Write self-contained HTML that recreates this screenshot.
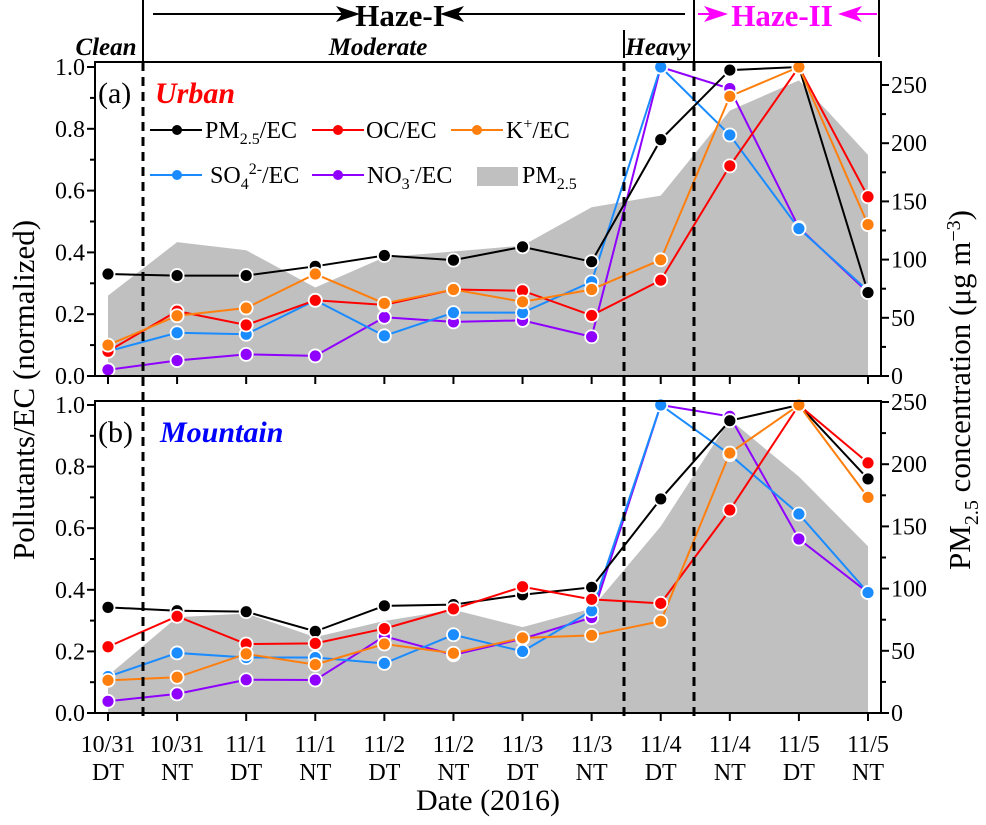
<!DOCTYPE html>
<html><head><meta charset="utf-8">
<style>
html,body{margin:0;padding:0;background:#fff;}
svg, svg text, svg tspan{font-family:"Liberation Serif","DejaVu Serif","Times New Roman",serif !important;}
</style></head>
<body>
<svg id="chart" width="986" height="820" viewBox="0 0 986 820">
</svg>
<script>
const categories = ["10/31|DT","10/31|NT","11/1|DT","11/1|NT","11/2|DT","11/2|NT","11/3|DT","11/3|NT","11/4|DT","11/4|NT","11/5|DT","11/5|NT"];
const seriesNames = ["PM2.5/EC","OC/EC","K+/EC","SO4/EC","NO3/EC"];
const urbanPM = [0.33,0.325,0.325,0.355,0.39,0.375,0.418,0.37,0.765,0.99,1.0,0.27];
const urbanOC = [0.08,0.21,0.165,0.245,0.23,0.28,0.276,0.196,0.31,0.68,1.0,0.58];
const urbanK = [0.10,0.195,0.22,0.33,0.235,0.28,0.24,0.28,0.376,0.905,1.0,0.49];
const urbanSO4 = [0.08,0.14,0.135,0.245,0.13,0.205,0.205,0.305,1.0,0.78,0.477,0.276];
const urbanNO3 = [0.02,0.05,0.07,0.065,0.19,0.175,0.18,0.127,1.0,0.93,0.48,0.27];
const urbanPM25 = [69,115,108,76,102,107,112,145,155,228,254,190];
const mountPM = [0.343,0.332,0.329,0.265,0.348,0.352,0.384,0.408,0.695,0.949,1.0,0.76];
const mountOC = [0.215,0.314,0.224,0.226,0.274,0.338,0.41,0.369,0.356,0.659,1.0,0.812];
const mountK = [0.106,0.116,0.192,0.157,0.224,0.194,0.244,0.252,0.298,0.844,1.0,0.70];
const mountSO4 = [0.118,0.195,0.18,0.18,0.161,0.254,0.2,0.332,1.0,0.839,0.646,0.391];
const mountNO3 = [0.038,0.062,0.108,0.107,0.249,0.189,0.241,0.31,1.0,0.963,0.565,0.391];
const mountPM25 = [30,77,80,61,74,83,69,84,150,236,190,134];
const leftTicks = ["0.0","0.2","0.4","0.6","0.8","1.0"];
const rightTicks = [0,50,100,150,200,250];

const colors = ["#000000","#ff0000","#ff7f0e","#1a8cff","#8f00ff"];
const drawOrder = [4,3,0,1,2];
const NS="http://www.w3.org/2000/svg";
const svg=document.getElementById('chart');
function el(tag,attrs,parent,text){const e=document.createElementNS(NS,tag);for(const k in attrs)e.setAttribute(k,attrs[k]);if(text!==undefined)e.textContent=text;(parent||svg).appendChild(e);return e;}

const X0=95,X1=881;
function xScale(i){return 108+i*(868-108)/(categories.length-1);}

function panel(cfg){
  const g=el('g',{});
  
  
  const yL=v=>cfg.y0-(cfg.y0-cfg.y1)*v;
  const yR=v=>cfg.y0-(cfg.y0-cfg.r250)*v/250;
  let d='M'+xScale(0)+','+cfg.y0;
  cfg.pm.forEach((v,i)=>{d+=' L'+xScale(i)+','+yR(v);});
  d+=' L'+xScale(cfg.pm.length-1)+','+cfg.y0+' Z';
  const a=el('path',{d:d,fill:'#c0c0c0'},g);
  
  
  drawOrder.forEach(si=>{
    const arr=cfg.series[si];
    const p=el('polyline',{points:arr.map((v,i)=>xScale(i)+','+yL(v)).join(' '),fill:'none',stroke:colors[si],'stroke-width':2},g);
    
    
  });
  drawOrder.forEach(si=>{
    const arr=cfg.series[si];
    arr.forEach((v,i)=>{
      const c=el('circle',{cx:xScale(i),cy:yL(v),r:6.5,fill:colors[si],stroke:'#fff','stroke-width':1.8},g);
      
      
    });
  });
  el('rect',{x:X0,y:cfg.top,width:X1-X0,height:cfg.y0-cfg.top,fill:'none',stroke:'#000','stroke-width':2},g);
  leftTicks.forEach((t,i)=>{
    const v=i*0.2,y=yL(v);
    el('line',{x1:X0-8,x2:X0,y1:y,y2:y,stroke:'#000','stroke-width':2},g);
    const tx=el('text',{x:X0-10,y:y+8,'text-anchor':'end','font-size':24},g,t);
    
    
    if(i<5){const ym=yL(v+0.1);el('line',{x1:X0-5,x2:X0,y1:ym,y2:ym,stroke:'#000','stroke-width':2},g);}
  });
  rightTicks.forEach((t,i)=>{
    const y=yR(t);
    el('line',{x1:X1,x2:X1+8,y1:y,y2:y,stroke:'#000','stroke-width':2},g);
    const tx=el('text',{x:X1+10,y:y+8,'font-size':24},g,String(t));
    
    
    const ym=yR(t+25);
    if(ym>=cfg.top) el('line',{x1:X1,x2:X1+5,y1:ym,y2:ym,stroke:'#000','stroke-width':2},g);
  });
  categories.forEach((c,i)=>{
    el('line',{x1:xScale(i),x2:xScale(i),y1:cfg.y0,y2:cfg.y0+8,stroke:'#000','stroke-width':2},g);
  });
  const lb=el('text',{x:98,y:cfg.top+41,'font-size':30},g,cfg.label);
  
  
  const st=el('text',{x:cfg.lx,y:cfg.top+41,'font-size':30,'font-weight':'bold','font-style':'italic',fill:cfg.lc},g,cfg.site);
  
  
}

panel({name:'urban-panel',top:62,y0:376,y1:67,r250:85,pm:urbanPM25,series:[urbanPM,urbanOC,urbanK,urbanSO4,urbanNO3],label:'(a)',site:'Urban',lc:'#ff0000',lx:155});
panel({name:'mountain-panel',top:401,y0:713,y1:405,r250:402,pm:mountPM25,series:[mountPM,mountOC,mountK,mountSO4,mountNO3],label:'(b)',site:'Mountain',lc:'#0000ff',lx:160});

categories.forEach((c,i)=>{
  const [d,t]=c.split('|');
  const a=el('text',{x:xScale(i),y:752,'text-anchor':'middle','font-size':24},svg,d);
  
  
  const b=el('text',{x:xScale(i),y:780,'text-anchor':'middle','font-size':24},svg,t);
  
  
});
</script>
<svg width="986" height="820" style="position:absolute;left:0;top:0">
  <text x="488" y="810" text-anchor="middle" font-size="30">Date (2016)</text>
  <text transform="translate(34,390) rotate(-90)" text-anchor="middle" font-size="31">Pollutants/EC (normalized)</text>
  <text transform="translate(970,390) rotate(-90)" text-anchor="middle" font-size="31">PM<tspan font-size="20" dy="8">2.5</tspan><tspan dy="-8"> concentration (μg m</tspan><tspan font-size="20" dy="-10">−3</tspan><tspan dy="10">)</tspan></text>
  <g stroke="#000" stroke-width="3">
    <line x1="143" y1="0" x2="143" y2="62" stroke-width="2"/>
    <line x1="143" y1="62" x2="143" y2="716" stroke-dasharray="9,6"/>
    <line x1="624" y1="30" x2="624" y2="58" stroke-width="2"/>
    <line x1="624" y1="62" x2="624" y2="716" stroke-dasharray="9,6"/>
    <line x1="694" y1="0" x2="694" y2="62" stroke-width="2"/>
    <line x1="694" y1="62" x2="694" y2="716" stroke-dasharray="9,6"/>
    <line x1="879" y1="0" x2="879" y2="57" stroke-width="2"/>
  </g>
  <g>
    <line x1="153" y1="14" x2="345" y2="14" stroke="#000" stroke-width="2"/>
    <polygon points="360,14 336,6 342,14 336,22" fill="#000"/>
    <text x="400" y="26" text-anchor="middle" font-size="31" font-weight="bold">Haze-I</text>
    <polygon points="440,14 464,6 458,14 464,22" fill="#000"/>
    <line x1="455" y1="14" x2="685" y2="14" stroke="#000" stroke-width="2"/>
  </g>
  <g fill="#ff00ff">
    <line x1="698" y1="14" x2="715" y2="14" stroke="#ff00ff" stroke-width="2"/>
    <polygon points="728,14 704,6 710,14 704,22"/>
    <text x="782" y="26" text-anchor="middle" font-size="31" font-weight="bold">Haze-II</text>
    <polygon points="838,14 862,6 856,14 862,22"/>
    <line x1="850" y1="14" x2="877" y2="14" stroke="#ff00ff" stroke-width="2"/>
  </g>
  <text x="106" y="55" text-anchor="middle" font-size="25" font-weight="bold" font-style="italic">Clean</text>
  <text x="378" y="55" text-anchor="middle" font-size="25" font-weight="bold" font-style="italic">Moderate</text>
  <text x="658" y="55" text-anchor="middle" font-size="25" font-weight="bold" font-style="italic">Heavy</text>
  <g font-size="24">
    <g><line x1="150" y1="130" x2="202" y2="130" stroke="#000" stroke-width="2"/><circle cx="177" cy="130" r="5" fill="#000"/><text x="205" y="138">PM<tspan font-size="16" dy="6">2.5</tspan><tspan dy="-6">/EC</tspan></text></g>
    <g><line x1="312" y1="130" x2="364" y2="130" stroke="#ff0000" stroke-width="2"/><circle cx="338" cy="130" r="5" fill="#ff0000"/><text x="366" y="138">OC/EC</text></g>
    <g><line x1="451" y1="130" x2="503" y2="130" stroke="#ff7f0e" stroke-width="2"/><circle cx="477" cy="130" r="5" fill="#ff7f0e"/><text x="506" y="138">K<tspan font-size="16" dy="-9">+</tspan><tspan dy="9">/EC</tspan></text></g>
    <g><line x1="150" y1="175" x2="202" y2="175" stroke="#1a8cff" stroke-width="2"/><circle cx="177" cy="175" r="5" fill="#1a8cff"/><text x="210" y="183">SO<tspan font-size="16" dy="6">4</tspan><tspan font-size="16" dy="-15">2-</tspan><tspan dy="9">/EC</tspan></text></g>
    <g><line x1="312" y1="175" x2="364" y2="175" stroke="#8f00ff" stroke-width="2"/><circle cx="338" cy="175" r="5" fill="#8f00ff"/><text x="367" y="183">NO<tspan font-size="16" dy="6">3</tspan><tspan font-size="16" dy="-15">-</tspan><tspan dy="9">/EC</tspan></text></g>
    <g><rect x="477" y="167" width="41" height="19" fill="#c0c0c0"/><text x="522" y="183">PM<tspan font-size="16" dy="6">2.5</tspan></text></g>
  </g>
</svg>
</body></html>
